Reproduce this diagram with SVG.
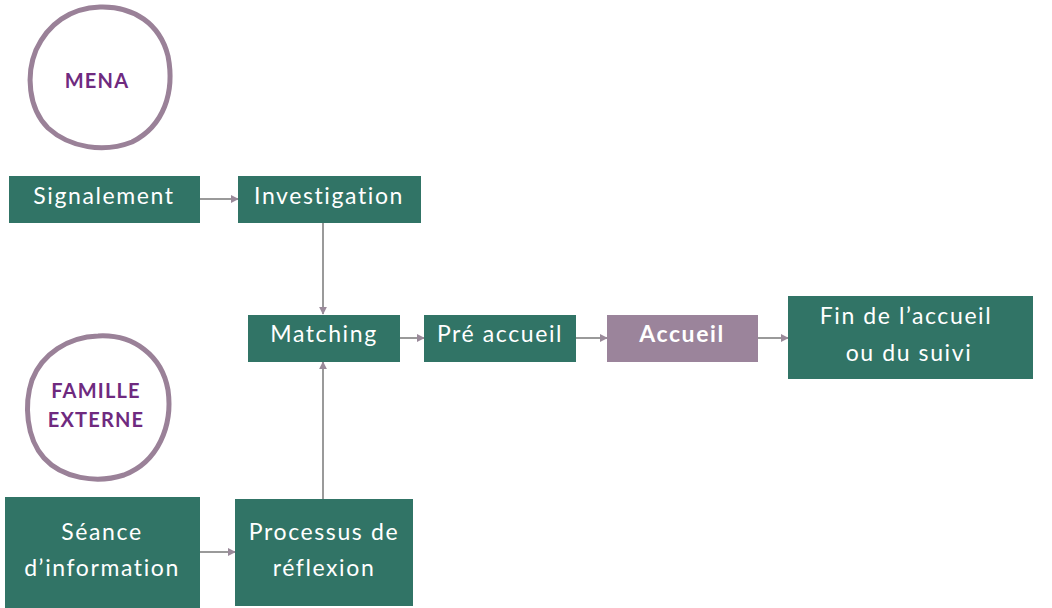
<svg xmlns="http://www.w3.org/2000/svg" width="1052" height="608" viewBox="0 0 1052 608">
<style>
.box{fill:#317466}
.acc{fill:#9b849b}
.t{font-family:Lato,"Noto Sans",sans-serif;font-size:23px;fill:#ffffff;text-anchor:middle;letter-spacing:1.6px}
.b{font-weight:bold}
.c{fill:none;stroke:#9a8198;stroke-width:5;stroke-linecap:round}
.ct{font-family:Lato,"Noto Sans",sans-serif;font-weight:bold;font-size:20px;fill:#6f2a7f;text-anchor:middle;letter-spacing:1.2px}
.e{stroke:#9a9a9a;stroke-width:2;fill:none;marker-end:url(#ah)}
</style>
<defs>
<marker id="ah" viewBox="0 0 10 10" refX="9" refY="5" markerWidth="4" markerHeight="4" orient="auto" markerUnits="strokeWidth">
<path d="M0,0 L10,5 L0,10 z" fill="#9a8a9a"/>
</marker>
</defs>
<rect width="1052" height="608" fill="#ffffff"/>
<g id="mena">
<path class="c" d="M100,7 C134,6 160,24 168,56 C175,92 164,126 132,142 C104,153 70,148 48,128 C28,108 26,74 36,50 C48,24 70,8 100,7 Z"/>
<text class="ct" x="97" y="88">MENA</text>
</g>
<g id="famille">
<path class="c" d="M98,336 C134,334 162,356 168,390 C173,426 158,462 124,475 C96,484 62,478 44,458 C26,438 24,404 32,380 C42,354 68,337 98,336 Z"/>
<text class="ct" x="96" y="398">FAMILLE</text>
<text class="ct" x="96" y="427">EXTERNE</text>
</g>
<g id="connectors">
<line class="e" x1="200" y1="199" x2="238" y2="199"/>
<line class="e" x1="323" y1="223" x2="323" y2="314"/>
<line class="e" x1="323" y1="499" x2="323" y2="362"/>
<line class="e" x1="400" y1="338" x2="424" y2="338"/>
<line class="e" x1="576" y1="338" x2="607" y2="338"/>
<line class="e" x1="758" y1="338" x2="788" y2="338"/>
<line class="e" x1="200" y1="552" x2="235" y2="552"/>
</g>
<g id="signalement">
<rect class="box" x="9" y="176" width="191" height="47"/>
<text class="t" x="104" y="204">Signalement</text>
</g>
<g id="investigation">
<rect class="box" x="238" y="176" width="183" height="47"/>
<text class="t" x="329" y="204">Investigation</text>
</g>
<g id="matching">
<rect class="box" x="248" y="315" width="152" height="47"/>
<text class="t" x="324" y="342">Matching</text>
</g>
<g id="preaccueil">
<rect class="box" x="424" y="315" width="152" height="47"/>
<text class="t" x="500" y="342">Pré accueil</text>
</g>
<g id="accueil">
<rect class="acc" x="607" y="315" width="151" height="47"/>
<text class="t b" x="682" y="342">Accueil</text>
</g>
<g id="fin">
<rect class="box" x="788" y="296" width="245" height="83"/>
<text class="t" x="906" y="324">Fin de l’accueil</text>
<text class="t" x="909" y="361">ou du suivi</text>
</g>
<g id="seance">
<rect class="box" x="5" y="497" width="195" height="111"/>
<text class="t" x="102" y="540">Séance</text>
<text class="t" x="102" y="576">d’information</text>
</g>
<g id="processus">
<rect class="box" x="235" y="499" width="178" height="107"/>
<text class="t" x="324" y="540">Processus de</text>
<text class="t" x="324" y="576">réflexion</text>
</g>
</svg>
